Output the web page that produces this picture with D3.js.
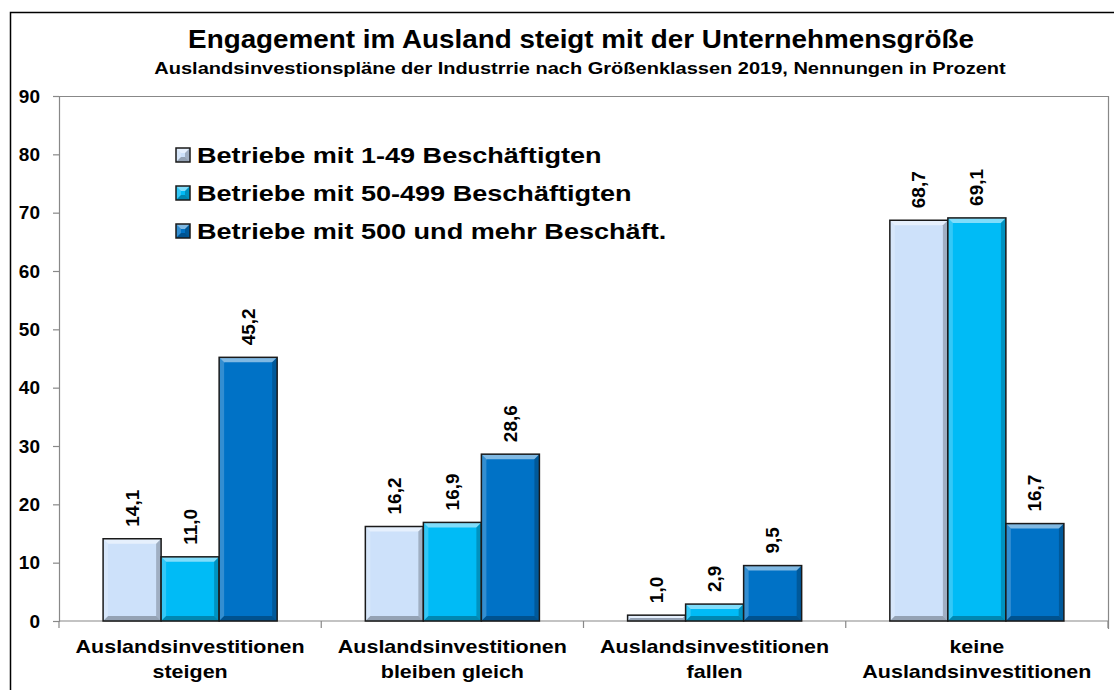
<!DOCTYPE html>
<html>
<head>
<meta charset="utf-8">
<script src="https://cdn.jsdelivr.net/npm/d3@7"></script>
<style>
  body { margin: 0; background: #fff; }
  text { font-family: "Liberation Sans", Arial, sans-serif; font-weight: bold; fill: #000; }
</style>
</head>
<body>
<div id="main"></div>
<script>
const categories = [
  ["Auslandsinvestitionen", "steigen"],
  ["Auslandsinvestitionen", "bleiben gleich"],
  ["Auslandsinvestitionen", "fallen"],
  ["keine", "Auslandsinvestitionen"]
]
const seriesNames = [
  "Betriebe mit 1-49 Beschäftigten",
  "Betriebe mit 50-499 Beschäftigten",
  "Betriebe mit 500 und mehr Beschäft."
]
const small = [14.1, 16.2, 1.0, 68.7]
const medium = [11.0, 16.9, 2.9, 69.1]
const large = [45.2, 28.6, 9.5, 16.7]
const yTicks = [0, 10, 20, 30, 40, 50, 60, 70, 80, 90]
const colors = ["#cde1fa", "#00bbf6", "#0072c6"]

const W = 1114, H = 690
const plot = {left: 59, right: 1108, top: 96, bottom: 621}

const svg = d3.select("#main").append("svg")
  .attr("width", W).attr("height", H)

// the source picture is wider than normal Arial, so stretch text horizontally
function stretch(sel, f) {
  sel.each(function() {
    const w = this.getComputedTextLength()
    d3.select(this).attr("textLength", w * f).attr("lengthAdjust", "spacingAndGlyphs")
  })
  return sel
}

// outer chart frame (cut off on the right and bottom)
svg.append("path")
  .attr("d", `M10.5,${H + 5} L10.5,12.5 L${W + 5},12.5`)
  .attr("fill", "none").attr("stroke", "#000").attr("stroke-width", 1.5)

stretch(svg.append("text")
  .attr("x", 581).attr("y", 48)
  .attr("text-anchor", "middle")
  .style("font-size", "26px")
  .text("Engagement im Ausland steigt mit der Unternehmensgröße"), 1.07)

stretch(svg.append("text")
  .attr("x", 580).attr("y", 73.5)
  .attr("text-anchor", "middle")
  .style("font-size", "16px")
  .text("Auslandsinvestionspläne der Industrrie nach Größenklassen 2019, Nennungen in Prozent"), 1.25)

const x0 = d3.scaleBand().domain(d3.range(categories.length))
  .range([plot.left, plot.right]).paddingInner(0).paddingOuter(0)
const x1 = d3.scaleBand().domain(d3.range(3))
  .range([0, x0.bandwidth()]).paddingInner(0).paddingOuter(0.76)
const y = d3.scaleLinear().domain([0, 90]).range([plot.bottom, plot.top])

// plot area border: top and right in gray
svg.append("path")
  .attr("d", `M${plot.left},${plot.top + 0.5} L${plot.right + 0.5},${plot.top + 0.5} L${plot.right + 0.5},${plot.bottom + 8}`)
  .attr("fill", "none").attr("stroke", "#888").attr("stroke-width", 1.2)

const yAxis = svg.append("g")
  .attr("transform", `translate(${plot.left},0)`)
  .call(d3.axisLeft(y).tickValues(yTicks).tickSize(6).tickPadding(13).tickFormat(d3.format("d")))
yAxis.select(".domain").attr("stroke", "#888").attr("stroke-width", 1.2)
yAxis.selectAll(".tick line").attr("stroke", "#888").attr("stroke-width", 1.2)
yAxis.selectAll(".tick text").style("font-size", "19px").attr("fill", "#000")

// x axis with ticks on category boundaries
const xAxis = svg.append("g").attr("transform", `translate(0,${plot.bottom})`)
xAxis.append("line")
  .attr("x1", plot.left).attr("x2", plot.right)
  .attr("stroke", "#888").attr("stroke-width", 1.2)
xAxis.selectAll(".bound")
  .data(d3.range(categories.length + 1))
  .enter().append("line")
  .attr("x1", i => i < categories.length ? x0(i) : x0(i - 1) + x0.bandwidth())
  .attr("x2", i => i < categories.length ? x0(i) : x0(i - 1) + x0.bandwidth())
  .attr("y1", 0).attr("y2", 7)
  .attr("stroke", "#888").attr("stroke-width", 1.2)

categories.forEach((lines, i) => {
  lines.forEach((l, k) => {
    stretch(svg.append("text")
      .attr("x", x0(i) + x0.bandwidth() / 2).attr("y", 653 + k * 24.5)
      .attr("text-anchor", "middle")
      .style("font-size", "19px")
      .text(l), 1.13)
  })
})

function bevelBar(g, bx, by, bw, bh, fill) {
  g.append("rect").attr("x", bx).attr("y", by).attr("width", bw).attr("height", bh)
    .attr("fill", fill)
  const b = Math.min(5, bh / 2, bw / 2)
  const faces = [
    [[bx, by], [bx + bw, by], [bx + bw - b, by + b], [bx + b, by + b], "#fff", 0.5],
    [[bx, by], [bx + b, by + b], [bx + b, by + bh - b], [bx, by + bh], "#fff", 0.2],
    [[bx + bw, by], [bx + bw, by + bh], [bx + bw - b, by + bh - b], [bx + bw - b, by + b], "#000", 0.22],
    [[bx, by + bh], [bx + b, by + bh - b], [bx + bw - b, by + bh - b], [bx + bw, by + bh], "#000", 0.28]
  ]
  faces.forEach(f => {
    g.append("polygon")
      .attr("points", f.slice(0, 4).map(p => p.join(",")).join(" "))
      .attr("fill", f[4]).attr("fill-opacity", f[5])
  })
  g.append("rect").attr("x", bx).attr("y", by).attr("width", bw).attr("height", bh)
    .attr("fill", "none").attr("stroke", "#1a1a1a").attr("stroke-width", 1.5)
}

const allSeries = [small, medium, large]
const bars = svg.append("g")
allSeries.forEach((vals, s) => {
  vals.forEach((v, i) => {
    const bx = x0(i) + x1(s)
    const by = y(v)
    bevelBar(bars, bx, by, x1.bandwidth(), y(0) - by, colors[s])
    const cx = bx + x1.bandwidth() / 2
    svg.append("text")
      .attr("transform", `translate(${cx + 6.5},${by - 12}) rotate(-90)`)
      .style("font-size", "19px")
      .text(d3.format(".1f")(v).replace(".", ","))
  })
})

// legend
const legend = svg.append("g")
seriesNames.forEach((name, s) => {
  const base = 163 + s * 38
  bevelBar(legend, 176, base - 15, 14, 14, colors[s])
  stretch(legend.append("text")
    .attr("x", 197).attr("y", base)
    .style("font-size", "22px")
    .text(name), 1.23)
})
</script>
</body>
</html>
